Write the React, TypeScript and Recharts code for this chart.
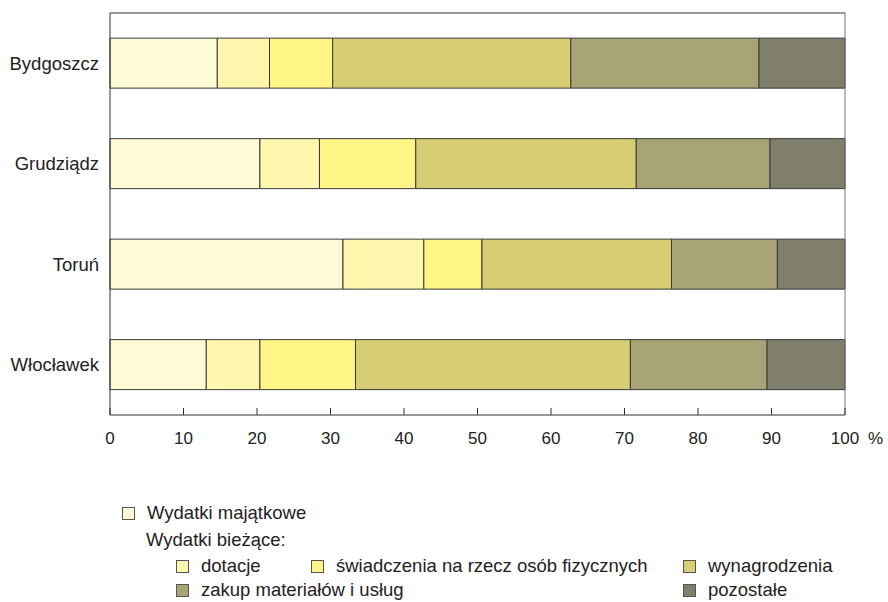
import React from 'react';
import { BarChart, Bar, XAxis, YAxis, Legend, Label } from 'recharts';

const cities = ['Bydgoszcz', 'Grudziądz', 'Toruń', 'Włocławek'];
const majatkowe = [14.6, 20.4, 31.7, 13.1];
const dotacje = [7.1, 8.1, 11.0, 7.3];
const swiadczenia = [8.6, 13.1, 7.9, 13.0];
const wynagrodzenia = [32.4, 30.0, 25.8, 37.4];
const zakup = [25.6, 18.2, 14.4, 18.6];
const pozostale = [11.7, 10.2, 9.2, 10.6];
const xTicks = [0, 10, 20, 30, 40, 50, 60, 70, 80, 90, 100];

const data = cities.map((city, i) => ({
  city,
  majatkowe: majatkowe[i],
  dotacje: dotacje[i],
  swiadczenia: swiadczenia[i],
  wynagrodzenia: wynagrodzenia[i],
  zakup: zakup[i],
  pozostale: pozostale[i],
}));

const series = [
  { key: 'majatkowe', name: 'Wydatki majątkowe', color: '#FFFAD6' },
  { key: 'dotacje', name: 'dotacje', color: '#FFF7AE' },
  { key: 'swiadczenia', name: 'świadczenia na rzecz osób fizycznych', color: '#FFF587' },
  { key: 'wynagrodzenia', name: 'wynagrodzenia', color: '#D7CE74' },
  { key: 'zakup', name: 'zakup materiałów i usług', color: '#A8A476' },
  { key: 'pozostale', name: 'pozostałe', color: '#807F6C' },
];

const FONT = '"Liberation Sans", Arial, sans-serif';

// where each legend entry sits inside the legend box (box top = 495)
const legendPos: Record<string, { x: number; y: number }> = {
  majatkowe: { x: 122, y: 18 },
  dotacje: { x: 176, y: 71 },
  swiadczenia: { x: 311, y: 71 },
  wynagrodzenia: { x: 683, y: 71 },
  zakup: { x: 176, y: 95 },
  pozostale: { x: 683, y: 95 },
};

const XTick = (props: any) => {
  const { x, y, payload } = props;
  return (
    <g>
      <line x1={x} x2={x} y1={y - 7} y2={y} stroke="#333" />
      <text x={x} y={y + 29} textAnchor="middle" fontSize={17} fill="#222" fontFamily={FONT}>
        {payload.value}
      </text>
    </g>
  );
};

const renderLegend = (props: any) => {
  const payload = props.payload || [];
  return (
    <div style={{ position: 'relative', width: 888, height: 107, fontFamily: FONT, fontSize: 18.5, color: '#222' }}>
      {payload.map((entry: any) => {
        const p = legendPos[entry.dataKey];
        if (!p) return null;
        return (
          <div key={entry.dataKey} style={{ position: 'absolute', left: p.x, top: p.y - 11, height: 22, display: 'flex', alignItems: 'center', whiteSpace: 'nowrap' }}>
            <span style={{ width: 11, height: 11, background: entry.color, border: '1px solid #555', marginRight: 12, flexShrink: 0 }} />
            <span>{entry.value}</span>
          </div>
        );
      })}
      <div style={{ position: 'absolute', left: 146, top: 45 - 11, height: 22, lineHeight: '22px', whiteSpace: 'nowrap' }}>Wydatki bieżące:</div>
    </div>
  );
};

export default function App() {
  return (
    <div style={{ width: 888, height: 602, background: '#fff' }}>
      <style>{'body{margin:0}'}</style>
      <BarChart
        width={888}
        height={602}
        data={data}
        layout="vertical"
        margin={{ top: 12, right: 42, bottom: 157, left: 0 }}
        barCategoryGap="25%"
      >
        <XAxis
          type="number"
          domain={[0, 100]}
          ticks={xTicks}
          tickLine={false}
          tickSize={0}
          tickMargin={0}
          tick={<XTick />}
          height={30}
          axisLine={{ stroke: '#333' }}
          interval={0}
        >
          <Label
            content={(p: any) => (
              <text x={p.viewBox.x + p.viewBox.width + 23} y={p.viewBox.y + 29} fontSize={17} fill="#222" fontFamily={FONT}>
                %
              </text>
            )}
          />
        </XAxis>
        <XAxis xAxisId="top" orientation="top" type="number" domain={[0, 100]} tick={false} tickLine={false} height={1} axisLine={{ stroke: '#333' }} />
        <YAxis
          type="category"
          dataKey="city"
          width={110}
          tickLine={false}
          tickSize={0}
          tickMargin={11}
          axisLine={{ stroke: '#333' }}
          tick={{ fontSize: 18.5, fill: '#222', fontFamily: FONT }}
        />
        <YAxis yAxisId="right" orientation="right" type="category" dataKey="city" width={1} tick={false} tickLine={false} axisLine={{ stroke: '#777' }} />
        <Legend
          content={renderLegend}
          layout="horizontal"
          verticalAlign="middle"
          align="center"
          wrapperStyle={{ top: 495, left: 0, width: 888, height: 107 }}
        />
        {series.map((s) => (
          <Bar
            key={s.key}
            dataKey={s.key}
            name={s.name}
            stackId="a"
            fill={s.color}
            stroke="#3a3a3a"
            strokeWidth={1}
            isAnimationActive={false}
          />
        ))}
      </BarChart>
    </div>
  );
}
